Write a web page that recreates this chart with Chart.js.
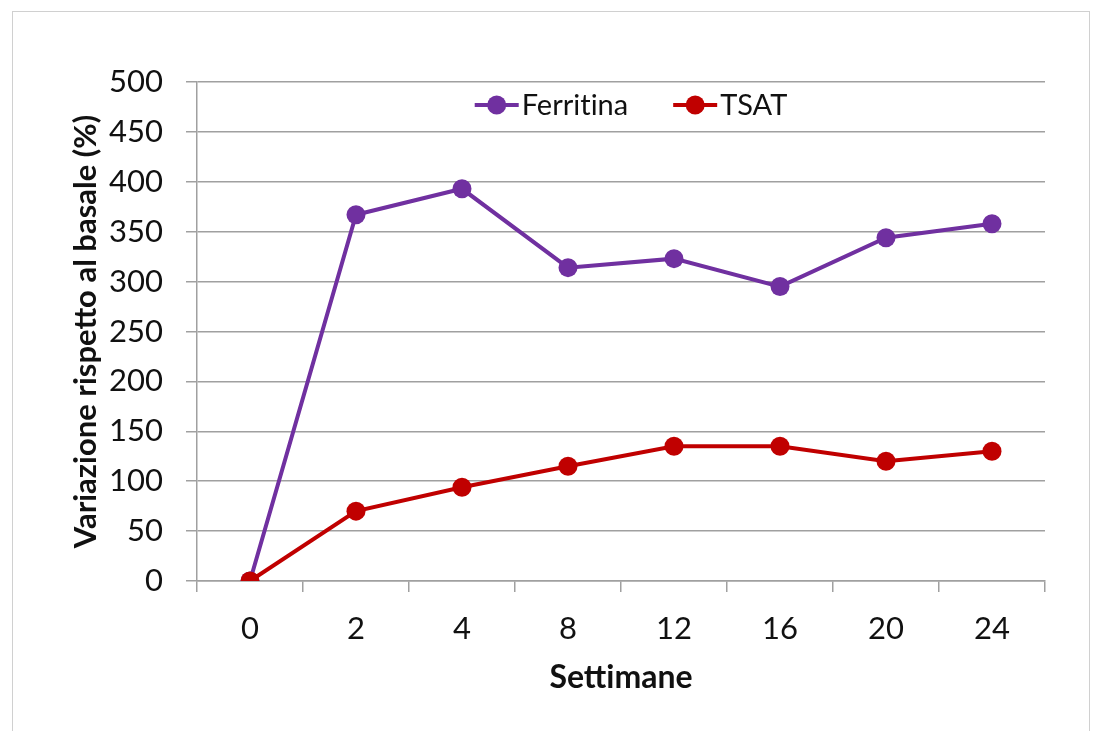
<!DOCTYPE html>
<html>
<head>
<meta charset="utf-8">
<script src="https://cdn.jsdelivr.net/npm/chart.js@4/dist/chart.umd.min.js"></script>
<style>
  html, body { margin: 0; padding: 0; background: #fff; }
  #wrap { position: relative; width: 1093px; height: 731px; overflow: hidden; }
  #frame { position: absolute; left: 12px; top: 11px; width: 1078px; height: 760px;
           border: 1px solid #d0d0d0; box-sizing: border-box; pointer-events: none; }
  canvas { position: absolute; left: 0; top: 0; }
</style>
</head>
<body>
<div id="wrap">
  <canvas id="c" width="1093" height="731"></canvas>
  <div id="frame"></div>
</div>
<script>
// Settimane di trattamento
const weeks = ['0', '2', '4', '8', '12', '16', '20', '24'];
// Variazione percentuale rispetto al basale
const ferritina = [0, 367, 393, 314, 323, 295, 344, 358];
const tsat = [0, 70, 94, 115, 135, 135, 120, 130];
// Etichette dell'asse Y
const yTicks = [0, 50, 100, 150, 200, 250, 300, 350, 400, 450, 500];

// ZWNJ between "t" and "i" keeps Lato from drawing its "ti" ligature
const noLig = s => s.replace(/ti/g, 't\u200Ci');

const FONT = 'Lato, "Open Sans", sans-serif';
const PURPLE = '#7030A0';
const RED = '#C00000';
const GRID = '#a0a0a0';

// Legenda in stile "linea con marcatore"
const lineLegend = {
  id: 'lineLegend',
  afterDraw(chart) {
    const ctx = chart.ctx;
    const items = chart.data.datasets.map(d => ({ label: noLig(d.label), color: d.borderColor }));
    ctx.save();
    ctx.font = '29px ' + FONT;
    const lineW = 44, gapText = 3, gapItem = 45;
    const widths = items.map(it => lineW + gapText + ctx.measureText(it.label).width);
    const total = widths.reduce((a, b) => a + b, 0) + gapItem * (items.length - 1);
    const cx = (chart.chartArea.left + chart.chartArea.right) / 2 + 10;
    const y = 105;
    let x = cx - total / 2;
    items.forEach((it, i) => {
      ctx.strokeStyle = it.color;
      ctx.lineWidth = 4;
      ctx.beginPath();
      ctx.moveTo(x, y);
      ctx.lineTo(x + lineW, y);
      ctx.stroke();
      ctx.fillStyle = it.color;
      ctx.beginPath();
      ctx.arc(x + lineW / 2, y, 9.5, 0, Math.PI * 2);
      ctx.fill();
      ctx.fillStyle = '#111';
      ctx.textBaseline = 'middle';
      ctx.textAlign = 'left';
      ctx.fillText(it.label, x + lineW + gapText, y + 1);
      x += widths[i] + gapItem;
    });
    ctx.restore();
  }
};

new Chart(document.getElementById('c'), {
  type: 'line',
  data: {
    labels: weeks,
    datasets: [
      {
        label: 'Ferritina',
        data: ferritina,
        order: 1,
        borderColor: PURPLE,
        backgroundColor: PURPLE,
        borderWidth: 4,
        pointRadius: 9.5,
        pointHoverRadius: 9.5,
        pointBorderWidth: 0,
        tension: 0
      },
      {
        label: 'TSAT',
        data: tsat,
        order: 0,
        borderColor: RED,
        backgroundColor: RED,
        borderWidth: 4,
        pointRadius: 9.5,
        pointHoverRadius: 9.5,
        pointBorderWidth: 0,
        tension: 0
      }
    ]
  },
  options: {
    responsive: false,
    animation: false,
    devicePixelRatio: 1,
    layout: { padding: { left: 0, top: 82, right: 48, bottom: 0 } },
    plugins: {
      legend: { display: false },
      tooltip: { enabled: false }
    },
    scales: {
      x: {
        offset: true,
        grid: {
          offset: true,
          drawOnChartArea: false,
          drawTicks: true,
          tickLength: 11,
          color: GRID,
          lineWidth: 1.5
        },
        border: { display: true, color: GRID, width: 1.5 },
        ticks: {
          color: '#111',
          font: { family: FONT, size: 31 },
          padding: 18,
          maxRotation: 0
        },
        title: {
          display: true,
          text: noLig('Settimane'),
          color: '#111',
          font: { family: FONT, size: 32, weight: 'bold' },
          padding: { top: 0, bottom: 34 }
        },
        afterFit(scale) { scale.height = 150; }
      },
      y: {
        min: 0,
        max: 500,
        afterBuildTicks(scale) { scale.ticks = yTicks.map(v => ({ value: v })); },
        grid: {
          color: GRID,
          lineWidth: 1.5,
          drawTicks: true,
          tickLength: 11
        },
        border: { display: true, color: GRID, width: 1.5 },
        ticks: {
          color: '#111',
          font: { family: FONT, size: 31 },
          padding: 23
        },
        title: {
          display: true,
          text: 'Variazione rispetto al basale (%)',
          color: '#111',
          font: { family: FONT, size: 31, weight: 'bold' },
          padding: { top: 67, bottom: 0 }
        },
        afterFit(scale) { scale.width = 197; }
      }
    }
  },
  plugins: [lineLegend]
});
</script>
</body>
</html>
